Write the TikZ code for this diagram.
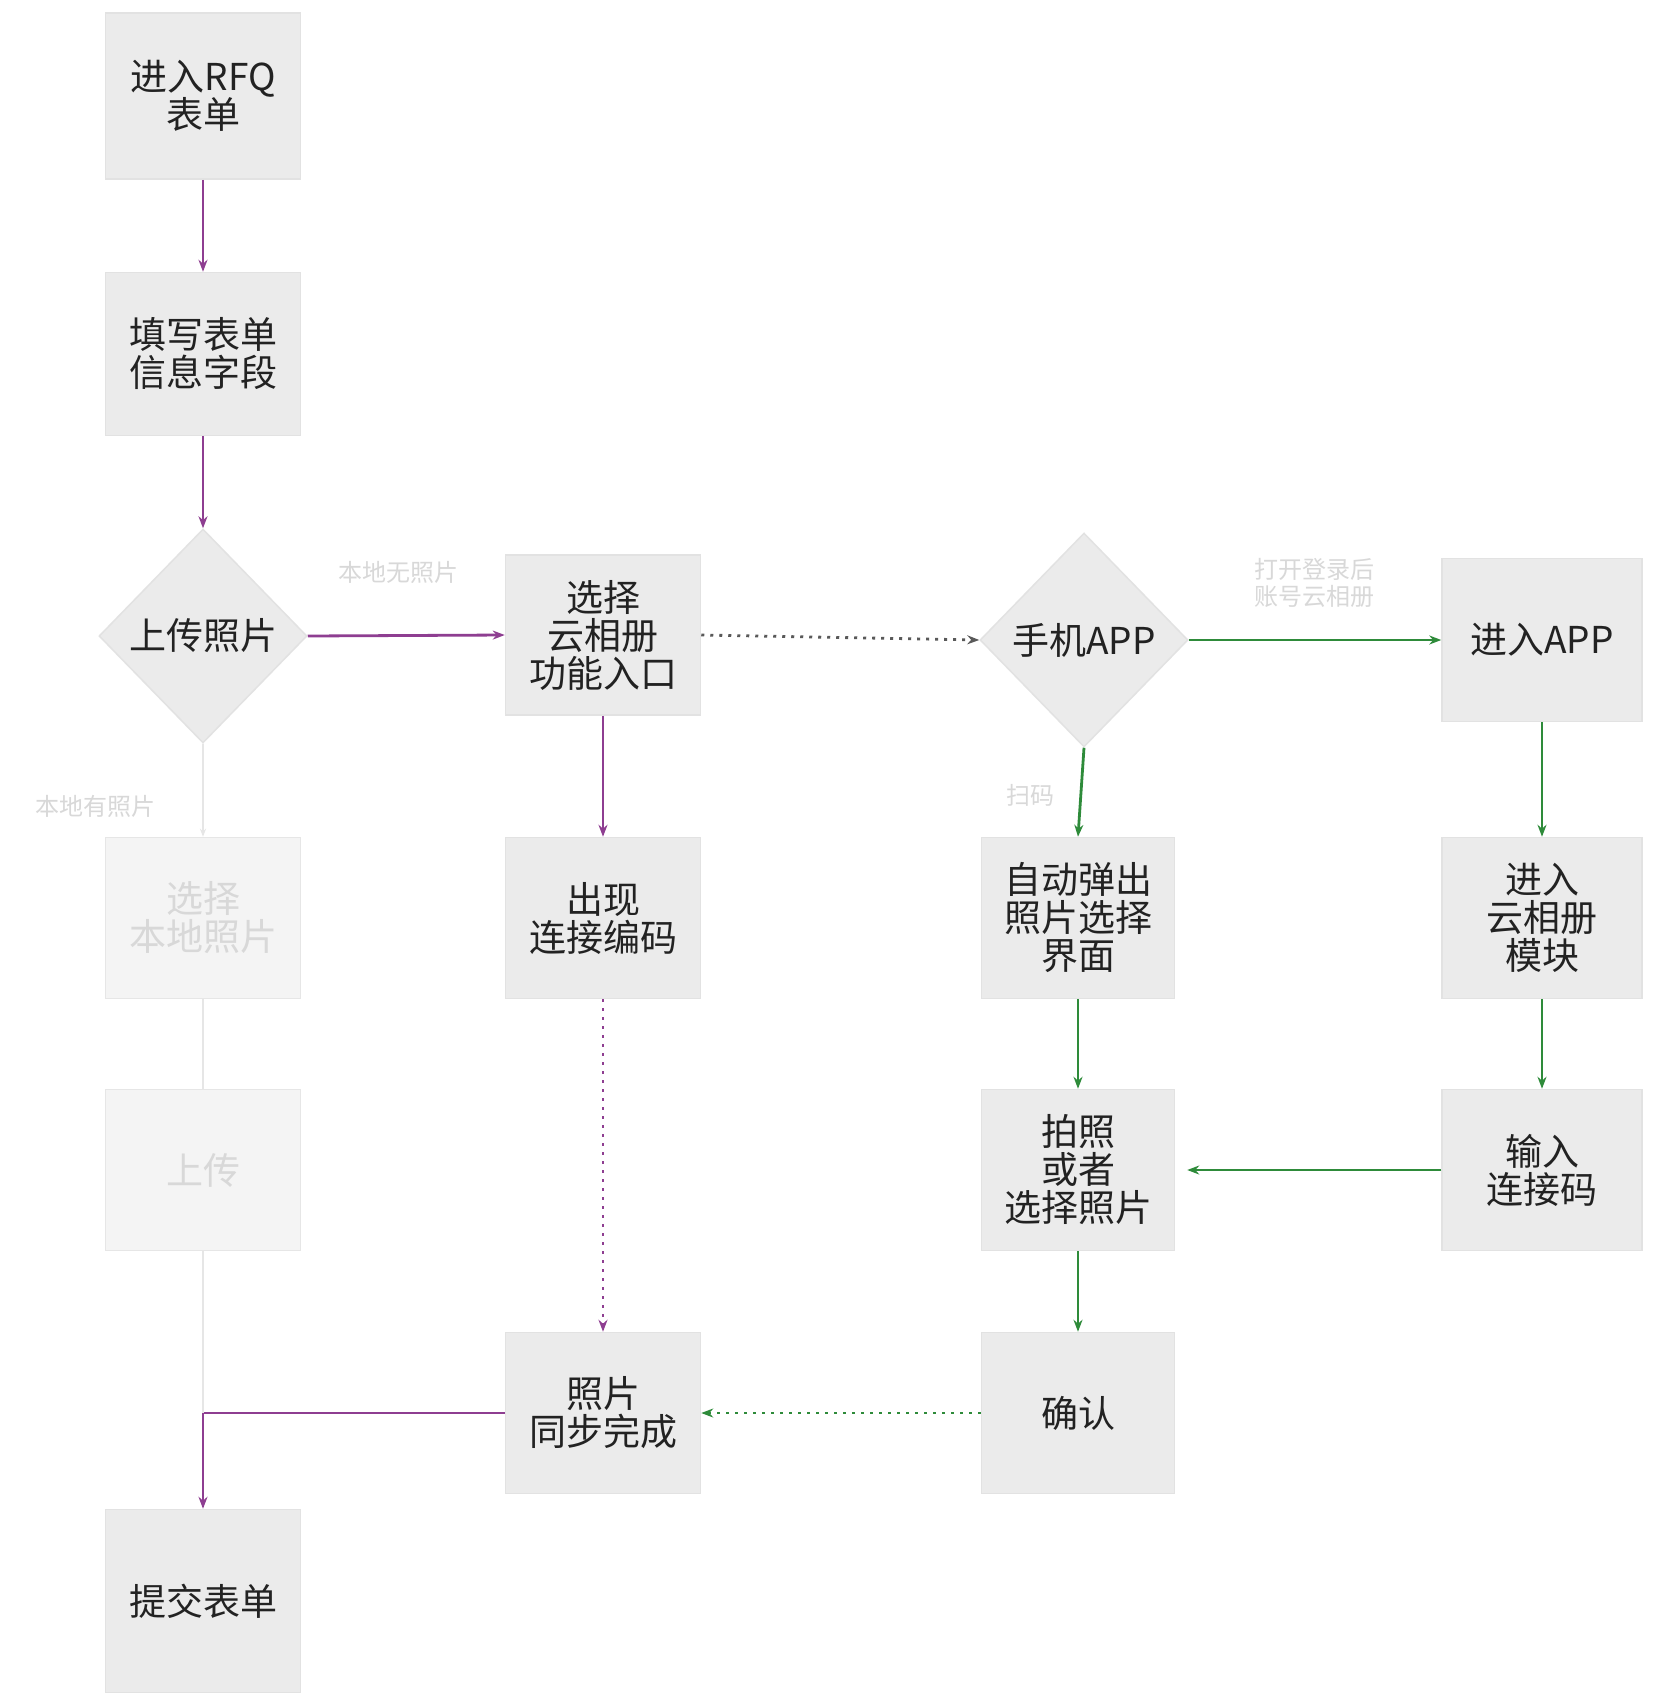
\documentclass[tikz,border=0pt]{standalone}
\usepackage{fontspec}
\setmainfont{Noto Sans CJK SC}
\usetikzlibrary{shapes.geometric,arrows.meta}
\definecolor{flowpurple}{HTML}{8E3E91}
\definecolor{flowgreen}{HTML}{2E8B3A}
\definecolor{boxfill}{HTML}{EBEBEB}
\definecolor{boxedge}{HTML}{E2E2E2}
\definecolor{boxtext}{HTML}{222222}
\definecolor{fadefill}{HTML}{F4F4F4}
\definecolor{fadeedge}{HTML}{E6E6E6}
\definecolor{fadetext}{HTML}{D8D8D8}
\tikzset{
  stepbox/.style={rectangle, fill=boxfill, draw=boxedge, line width=1.5pt,
    minimum width=195pt, minimum height=163pt, inner sep=0pt,
    align=center, text=boxtext, font=\fontsize{37}{38}\selectfont},
  fadebox/.style={stepbox, fill=fadefill, draw=fadeedge, text=fadetext},
  choice/.style={diamond, fill=boxfill, draw=boxedge, line width=1.5pt,
    minimum width=208pt, minimum height=214pt, inner sep=0pt,
    align=center, text=boxtext, font=\fontsize{37}{38}\selectfont},
  tip/.style={-{Stealth[length=12pt,width=9pt]}},
  purpleflow/.style={tip, draw=flowpurple, line width=2.8pt},
  greenflow/.style={tip, draw=flowgreen, line width=2.8pt},
  dotflow/.style={dash pattern=on 3pt off 6pt},
  fadeflow/.style={draw=fadeedge, line width=1.5pt},
  faintlabel/.style={text=fadetext, font=\fontsize{24}{27}\selectfont, align=left, inner sep=2pt}
}
\begin{document}
\begin{tikzpicture}[x=1pt,y=-1pt]
\useasboundingbox[fill=white] (0,0) rectangle (1654,1700);

% left column: form flow
\node[stepbox, minimum height=166pt] (rfq) at (203,96) {进入RFQ\\表单};
\node[stepbox] (fill) at (203,354) {填写表单\\信息字段};
\node[choice] (upload) at (203,636) {上传照片};
\node[fadebox, minimum height=161pt] (local) at (203,918) {选择\\本地照片};
\node[fadebox, minimum height=161pt] (upl) at (203,1170) {上传};
\node[stepbox, minimum height=183pt] (submit) at (203,1601) {提交表单};

% second column: cloud album entry
\node[stepbox, minimum height=160pt] (cloud) at (603,635) {选择\\云相册\\功能入口};
\node[stepbox, minimum height=161pt] (code) at (603,918) {出现\\连接编码};
\node[stepbox, minimum height=161pt] (sync) at (603,1413) {照片\\同步完成};

% third column: phone app
\node[choice] (app) at (1084,640) {手机APP};
\node[stepbox, minimum width=193pt, minimum height=161pt] (popup) at (1078,918) {自动弹出\\照片选择\\界面};
\node[stepbox, minimum width=193pt, minimum height=161pt] (shoot) at (1078,1170) {拍照\\或者\\选择照片};
\node[stepbox, minimum width=193pt, minimum height=161pt] (confirm) at (1078,1413) {确认};

% fourth column: app cloud album module
\node[stepbox, minimum width=200pt] (enterapp) at (1542,640) {进入APP};
\node[stepbox, minimum width=200pt, minimum height=161pt] (module) at (1542,918) {进入\\云相册\\模块};
\node[stepbox, minimum width=200pt, minimum height=161pt] (input) at (1542,1170) {输入\\连接码};

\coordinate (merge) at (203,1413);

% connectors
\draw[purpleflow] (rfq) -- (fill);
\draw[purpleflow] (fill) -- (upload);
\draw[purpleflow] (upload.east) -- (cloud.west);
\draw[purpleflow] (cloud) -- (code);
\draw[purpleflow, dotflow] (code) -- (sync);
\draw[purpleflow] (sync.west) -| (submit.north);

\draw[fadeflow, -{Stealth[length=8pt,width=6pt]}] (upload.south) -- (local.north);
\draw[fadeflow] (local) -- (upl);
\draw[fadeflow] (upl.south) -- (merge);

\draw[tip, draw=black!65, line width=2.8pt, dotflow] (cloud.east) -- (app.west);

\draw[greenflow] (app.east) -- (enterapp.west);
\draw[greenflow] (app.south) -- (popup.north);
\draw[greenflow] (enterapp) -- (module);
\draw[greenflow] (module) -- (input);
\draw[greenflow, shorten >=12pt] (input.west) -- (shoot.east);
\draw[greenflow] (popup) -- (shoot);
\draw[greenflow] (shoot) -- (confirm);
\draw[greenflow, dotflow] (confirm.west) -- (sync.east);

% branch labels
\node[faintlabel] (nolocal) at (398,572) {本地无照片};
\node[faintlabel] (haslocal) at (95,806) {本地有照片};
\node[faintlabel] (openapp) at (1314,583) {打开登录后\\账号云相册};
\node[faintlabel, fill=white] (scan) at (1030,795) {扫码};
\end{tikzpicture}
\end{document}
